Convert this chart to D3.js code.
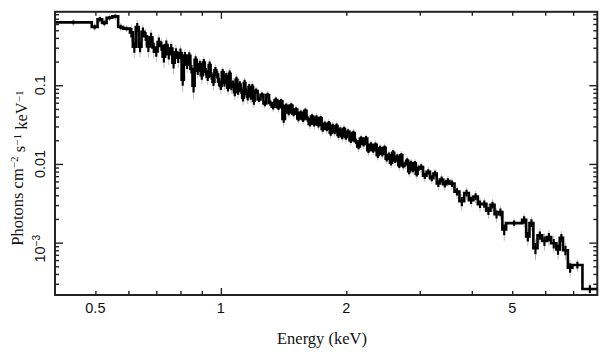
<!DOCTYPE html>
<html>
<head>
<meta charset="utf-8">
<script src="https://cdn.jsdelivr.net/npm/d3@7"></script>
<style>
  html, body { margin: 0; padding: 0; background: #fff; }
  svg { display: block; }
</style>
</head>
<body>
<svg id="chart" width="609" height="357"></svg>
<script>
// ---------------- data ----------------
// bin edges (keV)
const binEdges = [
0.40,0.49,0.506,0.519,0.532,0.549,0.567,0.583,0.605,
0.615,0.625,0.635,0.645,0.655,0.665,0.675,0.685,0.695,0.705,0.715,0.725,0.735,0.745,0.755,0.765,0.775,0.785,0.795,0.805,
0.815,0.825,0.835,0.845,0.855,0.865,0.875,0.885,0.895,0.905,0.915,0.925,0.935,0.945,0.955,0.965,0.975,0.985,0.995,1.005,
1.015,1.025,1.035,1.045,1.055,1.065,1.075,1.085,1.095,1.105,1.115,1.125,1.135,1.145,1.155,1.165,1.175,1.185,1.195,1.205,
1.225,1.245,1.265,1.285,1.305,1.325,1.345,1.365,1.385,1.405,1.425,1.445,1.465,1.485,1.505,1.525,1.545,1.565,1.585,1.605,
1.625,1.645,1.665,1.685,1.705,1.725,1.745,1.765,1.785,1.805,1.825,1.845,1.865,1.885,1.905,1.925,1.945,1.965,1.985,2.005,
2.035,2.065,2.095,2.125,2.155,2.185,2.215,2.245,2.275,2.305,2.335,2.365,2.395,2.425,2.455,2.485,2.515,2.545,2.575,2.605,
2.635,2.665,2.695,2.725,2.755,2.785,2.815,2.845,2.875,2.905,2.935,2.965,2.995,
3.055,3.115,3.175,3.235,3.295,3.355,3.415,3.475,3.535,
3.635,3.735,3.835,3.935,4.035,4.135,4.235,4.335,4.435,4.535,4.635,4.735,4.835,
5.28,5.40,5.50,5.62,5.75,5.90,6.05,6.20,6.38,6.50,6.62,6.80,6.97,7.37,8.0
];
// unfolded flux per bin (photons cm^-2 s^-1 keV^-1)
const fluxValues = [
0.630,0.55,0.69,0.62,0.72,0.75,0.55,0.525,
0.47,0.309,0.549,0.308,0.477,0.420,0.312,0.408,0.302,0.268,0.355,0.317,0.230,0.325,0.249,0.292,0.194,0.260,0.224,0.257,
0.118,0.238,0.182,0.236,0.161,0.099,0.210,0.153,0.184,0.134,0.195,0.149,0.128,0.181,0.132,0.111,0.155,0.137,0.111,0.0983,
0.146,0.108,0.130,0.0933,0.140,0.0964,0.104,0.0814,0.117,0.0845,0.102,0.0863,0.0697,0.107,0.0832,0.0720,0.0947,0.0729,0.0946,0.0635,
0.0847,0.0662,0.0756,0.0587,0.0749,0.0596,0.0532,0.0650,0.0525,0.0624,0.0374,0.0548,0.0450,0.0552,0.0436,0.0491,0.0379,0.0445,0.0369,0.0472,
0.0375,0.0323,0.0399,0.0323,0.0387,0.0315,0.0380,0.0279,0.0322,0.0281,0.0327,0.0249,0.0302,0.0259,0.0304,0.0233,0.0271,0.0225,0.0278,0.0221,
0.0257,0.0200,0.0247,0.0194,0.0167,0.0210,0.0180,0.0211,0.0150,0.0175,0.0150,0.0175,0.0130,0.0158,0.0135,0.0160,0.0117,0.0130,0.0104,0.0139,
0.0111,0.0123,0.00966,0.0129,0.00954,0.0100,0.0110,0.00809,0.0102,0.00849,0.0102,0.00753,0.00879,
0.00914,0.00708,0.00792,0.00659,0.00756,0.00565,0.00635,0.00553,0.00605,
0.00562,0.00445,0.00335,0.00427,0.00347,0.00385,0.00309,0.00311,0.00254,0.00302,0.00229,0.00244,0.00147,
0.00177,0.00195,0.00120,0.00178,0.00085,0.00124,0.00105,0.00118,0.00098,0.00082,0.00115,0.00080,0.00048,0.00052,0.000258
];
// relative 1-sigma errors per bin
const relErrors = [
0.1,0.12,0.12,0.12,0.1,0.1,0.12,0.1,
0.25,0.29,0.23,0.27,0.25,0.24,0.28,0.25,0.27,0.26,0.25,0.24,0.28,0.25,0.27,0.26,0.29,0.25,0.26,0.25,
0.3,0.2,0.21,0.2,0.22,0.33,0.2,0.21,0.2,0.22,0.19,0.2,0.21,0.19,0.2,0.21,0.19,0.2,0.21,0.21,
0.18,0.19,0.19,0.2,0.18,0.19,0.19,0.2,0.18,0.19,0.18,0.19,0.2,0.18,0.19,0.2,0.18,0.19,0.18,0.2,
0.13,0.14,0.13,0.14,0.13,0.14,0.14,0.13,0.14,0.13,0.2,0.13,0.14,0.13,0.14,0.13,0.14,0.13,0.14,0.13,
0.14,0.14,0.13,0.14,0.13,0.14,0.13,0.15,0.14,0.14,0.13,0.15,0.14,0.14,0.13,0.15,0.14,0.15,0.13,0.15,
0.13,0.14,0.13,0.14,0.15,0.13,0.14,0.13,0.15,0.14,0.14,0.13,0.15,0.14,0.14,0.13,0.15,0.14,0.15,0.13,
0.14,0.14,0.15,0.13,0.14,0.14,0.13,0.15,0.14,0.14,0.13,0.15,0.14,
0.15,0.17,0.15,0.16,0.15,0.18,0.16,0.17,0.16,
0.17,0.19,0.24,0.18,0.19,0.18,0.2,0.19,0.21,0.18,0.21,0.2,0.28,
0.14,0.2,0.25,0.2,0.3,0.22,0.25,0.22,0.25,0.26,0.22,0.25,0.25,0.18,0.2
];
// axis ticks
const xTickValues = [0.5, 1, 2, 5];
const xTickLabels = ["0.5", "1", "2", "5"];
const xMajorTicks = [1];
const xMinorTicks = [0.5, 0.6, 0.7, 0.8, 0.9, 2, 3, 4, 5, 6, 7];
const yTickValues = [0.1, 0.01, 0.001];
const yTickLabels = [{base: "0.1", sup: ""}, {base: "0.01", sup: ""}, {base: "10", sup: "\u22123"}];
const yMajorTicks = [0.001, 0.01, 0.1];
const yMinorTicks = [3e-4,4e-4,5e-4,6e-4,7e-4,8e-4,9e-4,2e-3,3e-3,4e-3,5e-3,6e-3,7e-3,8e-3,9e-3,
                     0.02,0.03,0.04,0.05,0.06,0.07,0.08,0.09,0.2,0.3,0.4,0.5,0.6,0.7,0.8];
const xDomain = [0.4, 8.0];
const yDomain = [2.16e-4, 0.858];

// ---------------- layout ----------------
const L = 55, R = 597.3, T = 11.8, B = 295;
const svg = d3.select("#chart");
const x = d3.scaleLog().domain(xDomain).range([L, R]);
const y = d3.scaleLog().domain(yDomain).range([B, T]);

svg.append("defs").append("clipPath").attr("id", "clip")
  .append("rect").attr("x", L).attr("y", T).attr("width", R - L).attr("height", B - T);

const plot = svg.append("g").attr("clip-path", "url(#clip)");

// bins
const bins = fluxValues.map((f, i) => ({
  lo: binEdges[i], hi: binEdges[i + 1], f: f, e: relErrors[i]
}));
const cx = d => x(Math.sqrt(d.lo * d.hi));

// grey error bars (full error)
plot.append("g").selectAll("line").data(bins).join("line")
  .attr("x1", cx).attr("x2", cx)
  .attr("y1", d => y(d.f * (1 + d.e)))
  .attr("y2", d => y(d.f * (1 - d.e)))
  .attr("stroke", "#bcbcbc")
  .attr("stroke-width", 1);

// black inner error bars
plot.append("g").selectAll("line").data(bins).join("line")
  .attr("x1", cx).attr("x2", cx)
  .attr("y1", d => y(d.f * (1 + 0.55 * d.e)))
  .attr("y2", d => y(d.f * (1 - 0.55 * d.e)))
  .attr("stroke", "#000")
  .attr("stroke-width", 2.2);

// step line
const pts = [];
bins.forEach(d => { pts.push([d.lo, d.f]); pts.push([d.hi, d.f]); });
const line = d3.line().x(p => x(p[0])).y(p => y(p[1]));
plot.append("path").datum(pts)
  .attr("d", line)
  .attr("fill", "none")
  .attr("stroke", "#000")
  .attr("stroke-width", 2.6)
  .attr("stroke-linejoin", "miter");

// ticks
const tickColor = "#222";
function styleAxis(g) {
  g.select(".domain").remove();
  g.selectAll(".tick line").attr("stroke", tickColor).attr("stroke-width", 1.4);
}
svg.append("g").attr("transform", `translate(0,${B})`)
  .call(d3.axisBottom(x).tickValues(xMinorTicks).tickSize(-4).tickFormat("")).call(styleAxis);
svg.append("g").attr("transform", `translate(0,${B})`)
  .call(d3.axisBottom(x).tickValues(xMajorTicks).tickSize(-7).tickFormat("")).call(styleAxis);
svg.append("g").attr("transform", `translate(0,${T})`)
  .call(d3.axisTop(x).tickValues(xMinorTicks).tickSize(-4).tickFormat("")).call(styleAxis);
svg.append("g").attr("transform", `translate(0,${T})`)
  .call(d3.axisTop(x).tickValues(xMajorTicks).tickSize(-7).tickFormat("")).call(styleAxis);
svg.append("g").attr("transform", `translate(${L},0)`)
  .call(d3.axisLeft(y).tickValues(yMinorTicks).tickSize(-4).tickFormat("")).call(styleAxis);
svg.append("g").attr("transform", `translate(${L},0)`)
  .call(d3.axisLeft(y).tickValues(yMajorTicks).tickSize(-8).tickFormat("")).call(styleAxis);
svg.append("g").attr("transform", `translate(${R},0)`)
  .call(d3.axisRight(y).tickValues(yMinorTicks).tickSize(-4).tickFormat("")).call(styleAxis);
svg.append("g").attr("transform", `translate(${R},0)`)
  .call(d3.axisRight(y).tickValues(yMajorTicks).tickSize(-8).tickFormat("")).call(styleAxis);

// frame
svg.append("rect").attr("x", L).attr("y", T).attr("width", R - L).attr("height", B - T)
  .attr("fill", "none").attr("stroke", tickColor).attr("stroke-width", 2);

// tick labels
const sans = "'Liberation Sans', Arial, Helvetica, sans-serif";
const serif = "'Liberation Serif', 'Times New Roman', Times, serif";
svg.append("g").selectAll("text").data(xTickValues).join("text")
  .attr("x", d => x(d)).attr("y", 313.3)
  .attr("text-anchor", "middle")
  .attr("font-family", sans).attr("font-size", 14.5).attr("fill", "#111")
  .text((d, i) => xTickLabels[i]);

const yl = svg.append("g").selectAll("text").data(yTickValues).join("text")
  .attr("transform", (d, i) => `translate(45,${y(d) + (yTickLabels[i].sup ? 6 : 0)}) rotate(-90)`)
  .attr("text-anchor", "middle")
  .attr("font-family", sans).attr("font-size", 14.5).attr("fill", "#111");
yl.each(function(d, i) {
  const t = d3.select(this);
  t.append("tspan").text(yTickLabels[i].base);
  if (yTickLabels[i].sup) {
    t.append("tspan").attr("dy", "-0.45em").attr("font-size", "0.7em").text(yTickLabels[i].sup);
  }
});

// axis titles
svg.append("text").attr("x", 322).attr("y", 343.5)
  .attr("text-anchor", "middle").attr("font-family", serif).attr("font-size", 16.5).attr("fill", "#111")
  .text("Energy (keV)");

const ytitle = svg.append("text").attr("transform", "translate(23,168) rotate(-90)")
  .attr("text-anchor", "middle").attr("font-family", serif).attr("font-size", 16.5).attr("fill", "#111");
const parts = [["Photons cm", ""], ["\u22122", "sup"], [" s", ""], ["\u22121", "sup"], [" keV", ""], ["\u22121", "sup"]];
let prevSup = false;
parts.forEach(([txt, kind]) => {
  const ts = ytitle.append("tspan").text(txt);
  if (kind === "sup") { ts.attr("dy", "-0.42em").attr("font-size", "0.68em"); prevSup = true; }
  else if (prevSup) { ts.attr("dy", "0.42em"); prevSup = false; }
});
</script>
</body>
</html>
